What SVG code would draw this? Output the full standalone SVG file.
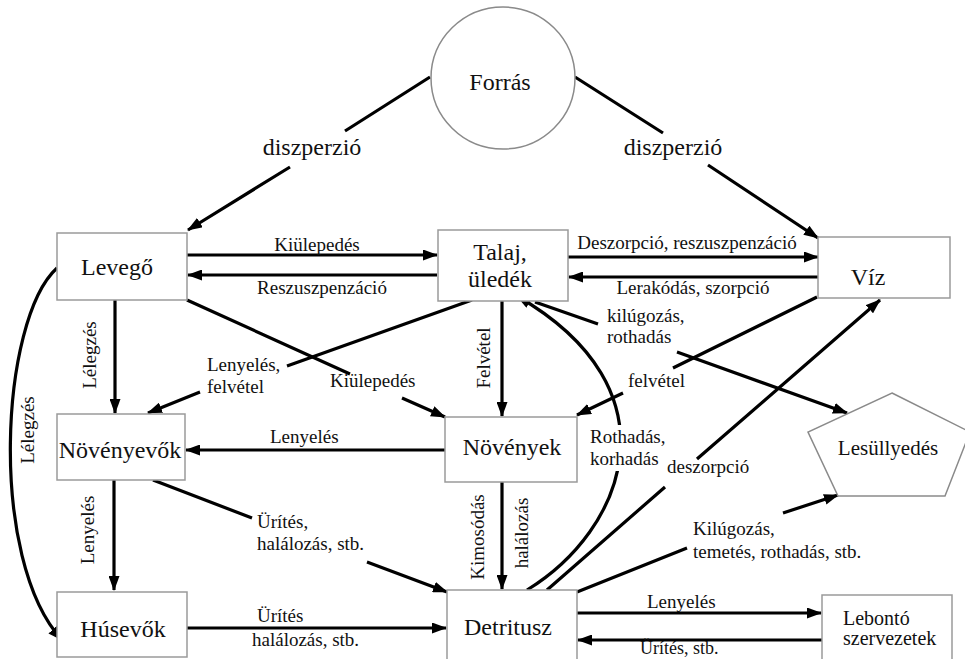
<svg xmlns="http://www.w3.org/2000/svg" width="965" height="659" viewBox="0 0 965 659">
<defs>
<marker id="ah" markerUnits="userSpaceOnUse" markerWidth="15" markerHeight="11" refX="14" refY="5.5" orient="auto">
<path d="M0,0 L15,5.5 L0,11 z" fill="#000"/>
</marker>
<style>
.box{fill:#fff;stroke:#9a9a9a;stroke-width:1.5}
.c{fill:none;stroke:#000;stroke-width:3.2;marker-end:url(#ah)}
text{font-family:Liberation Serif, Times New Roman, Times, serif;fill:#111}
.nt{font-size:24px;text-anchor:middle}
.lb{font-size:19px}
.mid{text-anchor:middle}
</style>
</defs>
<rect width="965" height="659" fill="#fff"/>

<g id="connectors">
<path class="c" d="M430,77 L345,131 M290,167 L188,230"/>
<path class="c" d="M575,77 L663,133 M708,165 L818,238"/>
<path class="c" d="M187,255 L437,255"/>
<path class="c" d="M437,275 L188,275"/>
<path class="c" d="M568,257 L818,257"/>
<path class="c" d="M818,277 L569,277"/>
<path class="c" d="M115,300 L115,413"/>
<path class="c" d="M472,300 L287,366 M200,392 L148,413"/>
<path class="c" d="M187,300 L350,374 M402,398 L445,417"/>
<path class="c" d="M502,301 L502,416"/>
<path class="c" d="M817,297 L673,368 M623,393 L577,415"/>
<path class="c" d="M535,302 L598,324 M677,352 L847,413"/>
<path class="c" d="M445,450 L186,450"/>
<path class="c" d="M114,480 L114,590"/>
<path class="c" d="M57,268 C0,320 -12,560 62,640"/>
<path class="c" d="M153,480 L252,518 M367,562 L447,592"/>
<path class="c" d="M187,628 L446,628"/>
<path class="c" d="M502,482 L502,589"/>
<path class="c" d="M527,590 C625,530 680,390 517,296"/>
<path class="c" d="M547,590 L665,487 M697,459 L880,300"/>
<path class="c" d="M577,592 L687,548 M783,513 L838,495"/>
<path class="c" d="M577,613 L821,613"/>
<path class="c" d="M822,640 L578,640"/>
</g>

<g id="forras">
<ellipse cx="503" cy="78" rx="72" ry="71" fill="#fff" stroke="#8a8a8a" stroke-width="1.5"/>
<text class="nt" x="500" y="90">Forrás</text>
</g>
<g id="levego">
<rect class="box" x="57" y="233" width="130" height="67"/>
<text class="nt" x="117" y="275">Levegő</text>
</g>
<g id="talaj">
<rect class="box" x="438" y="230" width="130" height="71"/>
<text class="nt" x="500" y="260">Talaj,</text>
<text class="nt" x="500" y="287">üledék</text>
</g>
<g id="viz">
<rect class="box" x="818" y="237" width="132" height="61"/>
<text class="nt" x="868" y="285">Víz</text>
</g>
<g id="novenyevok">
<rect class="box" x="57" y="414" width="128" height="66"/>
<text class="nt" x="120" y="458">Növényevők</text>
</g>
<g id="novenyek">
<rect class="box" x="445" y="417" width="132" height="65"/>
<text class="nt" x="512" y="455">Növények</text>
</g>
<g id="lesullyedes">
<polygon points="892,393 970,432 945,496 838,496 808,432" fill="#fff" stroke="#8a8a8a" stroke-width="1.5"/>
<text class="nt" x="888" y="455" style="font-size:21px">Lesüllyedés</text>
</g>
<g id="husevok">
<rect class="box" x="57" y="592" width="130" height="65"/>
<text class="nt" x="123" y="637">Húsevők</text>
</g>
<g id="detritusz">
<rect class="box" x="447" y="590" width="130" height="80"/>
<text class="nt" x="508" y="635">Detritusz</text>
</g>
<g id="lebonto">
<rect class="box" x="822" y="595" width="130" height="75"/>
<text x="843" y="625" style="font-size:20px">Lebontó</text>
<text x="843" y="645" style="font-size:20px">szervezetek</text>
</g>

<g id="labels">
<text class="nt" x="312" y="155">diszperzió</text>
<text class="nt" x="673" y="155">diszperzió</text>
<text class="lb mid" x="317" y="251">Kiülepedés</text>
<text class="lb mid" x="322" y="294">Reszuszpenzáció</text>
<text class="lb mid" x="687" y="249">Deszorpció, reszuszpenzáció</text>
<text class="lb mid" x="693" y="294">Lerakódás, szorpció</text>
<text class="lb mid" transform="translate(96,355) rotate(-90)">Lélegzés</text>
<text class="lb mid" transform="translate(34,430) rotate(-90)">Lélegzés</text>
<text class="lb mid" transform="translate(94,530) rotate(-90)">Lenyelés</text>
<text class="lb mid" transform="translate(490,358) rotate(-90)">Felvétel</text>
<text class="lb mid" transform="translate(484,537) rotate(-90)">Kimosódás</text>
<text class="lb mid" transform="translate(528,533) rotate(-90)">halálozás</text>
<text class="lb" x="207" y="371">Lenyelés,</text>
<text class="lb" x="207" y="393">felvétel</text>
<text class="lb" x="330" y="387">Kiülepedés</text>
<text class="lb" x="270" y="443">Lenyelés</text>
<text class="lb" x="607" y="322">kilúgozás,</text>
<text class="lb" x="607" y="343">rothadás</text>
<text class="lb" x="628" y="387">felvétel</text>
<rect x="588" y="425" width="78" height="46" fill="#fff"/>
<text class="lb" x="590" y="443">Rothadás,</text>
<text class="lb" x="590" y="465">korhadás</text>
<text class="lb" x="667" y="473">deszorpció</text>
<text class="lb" x="257" y="528">Ürítés,</text>
<text class="lb" x="257" y="550">halálozás, stb.</text>
<text class="lb" x="257" y="622">Ürítés</text>
<text class="lb" x="252" y="646">halálozás, stb.</text>
<text class="lb" x="693" y="535">Kilúgozás,</text>
<text class="lb" x="693" y="558">temetés, rothadás, stb.</text>
<text class="lb" x="647" y="608">Lenyelés</text>
<text class="lb" x="640" y="654" style="font-size:18px">Ürítés, stb.</text>
</g>
</svg>
